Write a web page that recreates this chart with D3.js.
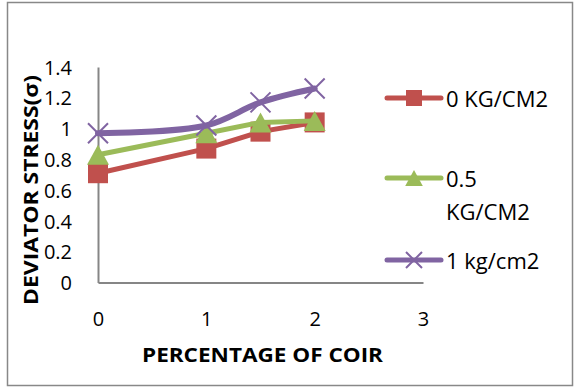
<!DOCTYPE html>
<html><head><meta charset="utf-8">
<script src="https://cdn.jsdelivr.net/npm/d3@7"></script>
<style>body{margin:0;background:#fff}svg{display:block}</style>
</head><body>
<script>
const xValues = [0, 1, 1.5, 2];
const series0 = [0.71, 0.87, 0.98, 1.04];   // 0 KG/CM2
const series05 = [0.83, 0.97, 1.04, 1.05];  // 0.5 KG/CM2
const series1 = [0.97, 1.02, 1.17, 1.26];   // 1 kg/cm2
const seriesNames = [["0 KG/CM2"], ["0.5", "KG/CM2"], ["1 kg/cm2"]];
const xTicks = [0, 1, 2, 3];
const yTicks = [0, 0.2, 0.4, 0.6, 0.8, 1, 1.2, 1.4];
const xTitle = "PERCENTAGE OF COIR";
const yTitle = "DEVIATOR STRESS(σ)";

const W = 579, H = 389;
const font = "'Open Sans', 'Noto Sans', sans-serif";
const svg = d3.select("body").append("svg").attr("width", W).attr("height", H);

svg.append("rect").attr("x", 7.5).attr("y", 2.5).attr("width", 565).attr("height", 383)
  .attr("fill", "none").attr("stroke", "#888").attr("stroke-width", 1.5);

const x = d3.scaleLinear().domain([0, 3]).range([98, 423]);
const y = d3.scaleLinear().domain([0, 1.4]).range([282.5, 67]);

// axes
const gx = svg.append("g").attr("transform", `translate(0,${y(0)})`)
  .call(d3.axisBottom(x).tickValues(xTicks).tickSize(0).tickPadding(0).tickFormat(d3.format("d")));
gx.select(".domain").attr("stroke", "#868686").attr("stroke-width", 2);
gx.selectAll("text").attr("y", 43).attr("dy", null).attr("font-size", 20).attr("font-family", font).attr("fill", "#000");

const gy = svg.append("g").attr("transform", `translate(${x(0)},0)`)
  .call(d3.axisLeft(y).tickValues(yTicks).tickSize(0).tickPadding(0).tickFormat(d => d3.format("")(+d.toFixed(1))));
gy.select(".domain").attr("stroke", "#868686").attr("stroke-width", 2);
gy.selectAll("text").attr("x", -26).attr("dy", "0.36em").attr("font-size", 20).attr("font-family", font).attr("fill", "#000");

// titles
svg.append("text").attr("x", 262.5).attr("y", 362).attr("text-anchor", "middle")
  .attr("font-family", font).attr("font-weight", "bold").attr("font-size", 19)
  .attr("textLength", 241).attr("lengthAdjust", "spacingAndGlyphs").text(xTitle);
svg.append("text").attr("transform", "translate(38,190) rotate(-90)").attr("text-anchor", "middle")
  .attr("font-family", font).attr("font-weight", "bold").attr("font-size", 19)
  .attr("textLength", 230).attr("lengthAdjust", "spacingAndGlyphs").text(yTitle);

const colors = ["#C0504D", "#9BBB59", "#8064A2"];
const data = [series0, series05, series1];
const curves = [d3.curveLinear, d3.curveLinear, d3.curveCatmullRom.alpha(0.5)];
const widths = [5, 5, 6];

function marker(g, i, cx, cy, s) {
  if (i === 0) {
    g.append("rect").attr("x", cx - s/2).attr("y", cy - s/2).attr("width", s).attr("height", s).attr("fill", colors[0]);
  } else if (i === 1) {
    const h = s;
    g.append("path").attr("d", `M${cx},${cy - h/2}L${cx + s*0.55},${cy + h/2}L${cx - s*0.55},${cy + h/2}Z`).attr("fill", colors[1]);
  } else {
    const r = s/2;
    g.append("path").attr("d", `M${cx-r},${cy-r}L${cx+r},${cy+r}M${cx-r},${cy+r}L${cx+r},${cy-r}`)
      .attr("stroke", colors[2]).attr("stroke-width", 2).attr("fill", "none");
  }
}

data.forEach((vals, i) => {
  const pts = xValues.map((xv, k) => [x(xv), y(vals[k])]);
  svg.append("path").attr("d", d3.line().curve(curves[i])(pts))
    .attr("fill", "none").attr("stroke", colors[i]).attr("stroke-width", widths[i])
    .attr("stroke-linejoin", "round").attr("stroke-linecap", "round");
  const g = svg.append("g");
  pts.forEach(p => marker(g, i, p[0], p[1], 20));
});

// legend
const legY = [98, 178, 260];
seriesNames.forEach((lines, i) => {
  svg.append("line").attr("x1", 387).attr("x2", 441).attr("y1", legY[i]).attr("y2", legY[i])
    .attr("stroke", colors[i]).attr("stroke-width", 5).attr("stroke-linecap", "round");
  marker(svg.append("g"), i, 414, legY[i], 16);
  lines.forEach((t, j) => {
    svg.append("text").attr("x", 446).attr("y", legY[i] + 9 + j * 33)
      .attr("font-family", font).attr("font-size", 22).attr("fill", "#000").text(t);
  });
});
</script>
</body></html>
